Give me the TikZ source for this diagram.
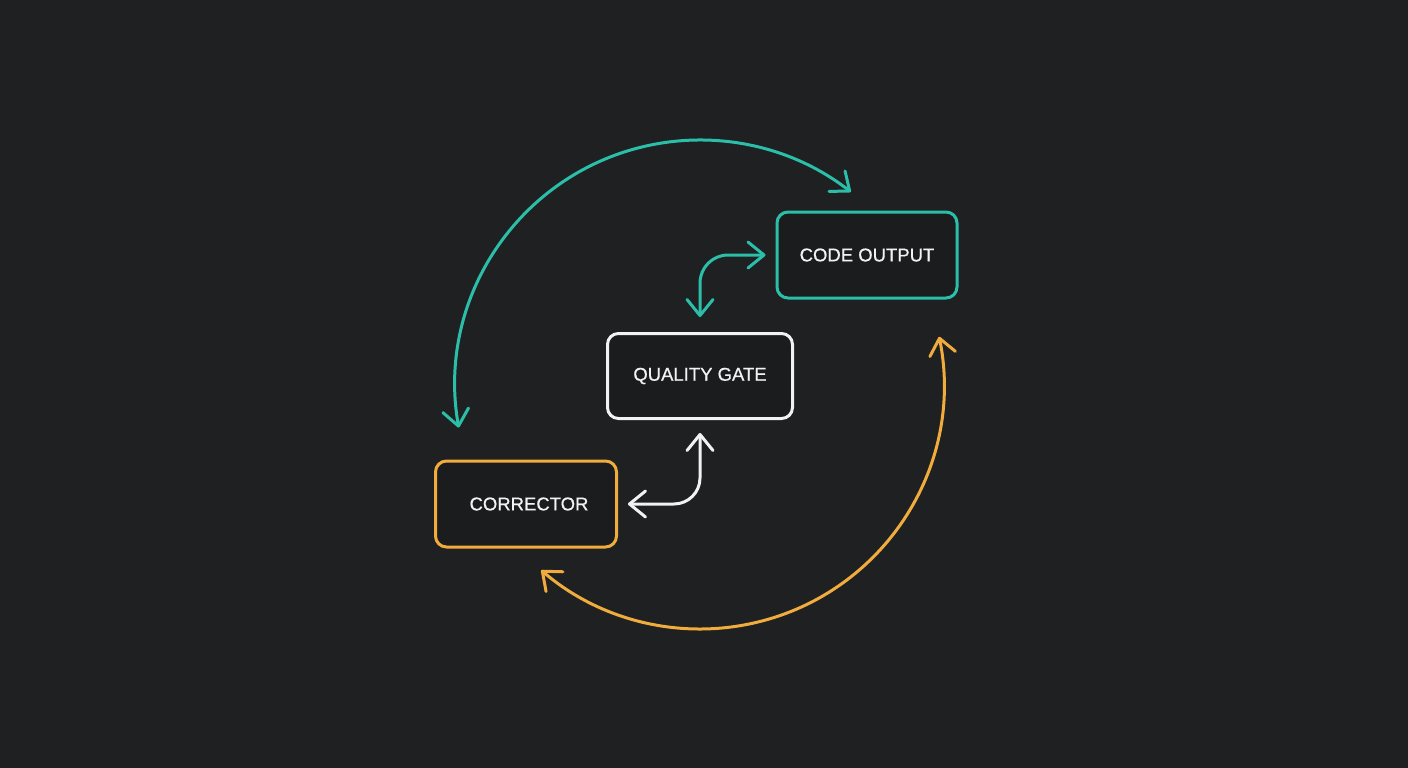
\documentclass[tikz,border=0pt]{standalone}
\usepackage{fontspec}
\setmainfont{Liberation Sans}
\newfontfamily\lblfont{Liberation Sans}[FakeBold=0.6]
\usetikzlibrary{arrows.meta,calc}
\definecolor{bg}{HTML}{1F2021}
\definecolor{boxfill}{HTML}{1B1C1D}
\definecolor{tealc}{HTML}{2BBFAA}
\definecolor{orangec}{HTML}{F0AC3C}
\definecolor{whitec}{HTML}{F2F2F2}
\tikzset{
  box/.style={draw, line width=3pt, rounded corners=11pt, fill=boxfill,
    text=whitec, font=\lblfont\fontsize{18.5}{22}\selectfont, inner sep=0pt},
  barb/.tip={Straight Barb[length=16pt,width=26pt,line cap=round,line join=round]},
  conn/.style={line width=3pt, line cap=round, line join=round, barb-barb},
}
\begin{document}
\begin{tikzpicture}[x=1pt,y=-1pt]
\fill[bg] (0,0) rectangle (1408,768);
\useasboundingbox (0,0) rectangle (1408,768);

\node[box, draw=tealc, minimum width=180pt, minimum height=86pt] (code) at (867,255) {CODE OUTPUT};
\node[box, draw=whitec, minimum width=185pt, minimum height=85pt] (gate) at (700,376) {QUALITY GATE};
\node[box, draw=orangec, minimum width=181pt, minimum height=86pt] (corr) at (526,504) {\hspace{6pt}CORRECTOR};

\coordinate (c) at (700,385);

% large teal arc
\draw[conn, tealc] ([shift={(-190:245)}]c) arc[start angle=-190, end angle=-52, radius=245];
% large orange arc
\draw[conn, orangec] ([shift={(-11.4:244)}]c) arc[start angle=-11.4, end angle=130.6, radius=244];

% teal small connector
\draw[conn, tealc, rounded corners=28pt] ($(gate.north)+(0,-15)$) |- ($(code.west)+(-10,0)$);
% white small connector
\draw[conn, whitec, rounded corners=26pt] ($(gate.south)+(0,13)$) |- ($(corr.east)+(10,0)$);
\end{tikzpicture}
\end{document}
